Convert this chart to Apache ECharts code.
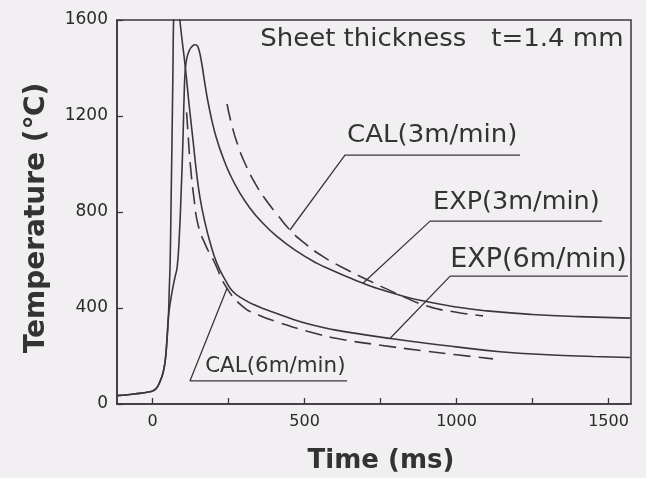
<!DOCTYPE html>
<html>
<head>
<meta charset="utf-8">
<script src="https://cdn.jsdelivr.net/npm/echarts@6/dist/echarts.min.js"></script>
<style>
  html, body { margin: 0; padding: 0; background: #f1eff1; }
  #chart { width: 646px; height: 478px; }
</style>
</head>
<body>
<div id="chart"></div>
<script>
// Axis ticks and labels
const xTickValues = [0, 250, 500, 750, 1000, 1250, 1500];
const xLabelValues = [0, 500, 1000, 1500];
const yLabelValues = [0, 400, 800, 1200, 1600];

// Measured temperature histories, [time ms, temperature °C]
const expSlow = [ // EXP(3m/min)
  [-117, 35], [-60, 42], [-10, 51], [10, 62], [25, 95], [35, 133], [42, 185], [47, 260],
  [52, 360], [58, 420], [66, 480], [74, 530], [81, 570], [88, 700], [94, 880], [100, 1100],
  [104, 1290], [108, 1400], [114, 1448], [122, 1476], [130, 1490], [138, 1497], [145, 1495],
  [152, 1478], [161, 1425], [170, 1352], [180, 1275], [195, 1182], [210, 1108], [230, 1033],
  [255, 956], [285, 884], [320, 817], [360, 757], [410, 697], [470, 640], [540, 587],
  [594, 555], [650, 525], [693, 503], [748, 478], [800, 458], [880, 432], [1000, 404],
  [1100, 388], [1250, 373], [1400, 364], [1571, 358]
];
const expFast = [ // EXP(6m/min)
  [-117, 35], [-60, 42], [-10, 51], [10, 62], [25, 95], [35, 133], [42, 185], [47, 260],
  [52, 360], [55, 480], [58, 600], [61, 850], [64, 1100], [67, 1390], [70, 1640], [76, 1740],
  [83, 1690], [89, 1610], [97, 1517], [107, 1412], [120, 1250], [133, 1100], [145, 960],
  [156, 860], [170, 770], [190, 670], [212, 585], [240, 515], [265, 468], [300, 436],
  [340, 410], [377, 392], [450, 358], [520, 331], [594, 310], [690, 290], [781, 273],
  [900, 253], [1000, 238], [1143, 218], [1300, 205], [1450, 198], [1571, 194]
];
// Calculated temperature histories
const calSlow = [ // CAL(3m/min)
  [245, 1250], [260, 1165], [280, 1080], [305, 1000], [335, 925], [370, 855], [410, 790],
  [452, 725], [500, 670], [560, 615], [620, 572], [706, 518], [800, 462], [903, 408],
  [1000, 382], [1087, 367]
];
const calFast = [ // CAL(6m/min)
  [112, 1215], [117, 1120], [124, 1000], [136, 860], [150, 745], [175, 660], [200, 600],
  [245, 482], [298, 405], [350, 370], [410, 342], [518, 300], [620, 270], [750, 245],
  [900, 220], [1000, 205], [1120, 188]
];

// Label leaders: curve point -> knee -> end of underline
const leaderCalSlow = [[452, 725], [633, 1037], [1209, 1037]];
const leaderExpSlow = [[692, 503], [913, 762], [1479, 762]];
const leaderExpFast = [[781, 273], [979, 533], [1564, 533]];
const leaderCalFast = [[245, 482], [123, 96], [640, 96]];

// Label texts and their anchors (left, vertical middle) in data units
const notes = [
  { text: 'Sheet thickness   t=1.4 mm', at: [354, 1517], size: 25, stretch: 1.04 },
  { text: 'CAL(3m/min)', at: [640, 1117], size: 25, stretch: 1.04 },
  { text: 'EXP(3m/min)', at: [923, 838], size: 25, stretch: 1.02 },
  { text: 'EXP(6m/min)', at: [979, 600], size: 26, stretch: 1.04 },
  { text: 'CAL(6m/min)', at: [173, 154], size: 21, stretch: 1.02 }
];

const ink = '#3a373a';
const chart = echarts.init(document.getElementById('chart'), null, { renderer: 'canvas' });

function curve(name, data, dashed) {
  return {
    name, type: 'line', data, showSymbol: false, symbol: 'none',
    smooth: 0.5, clip: true, silent: true,
    lineStyle: { color: ink, width: 1.6, type: dashed ? [17, 8] : 'solid' }
  };
}
function leader(data) {
  return {
    type: 'line', data, showSymbol: false, symbol: 'none', silent: true,
    lineStyle: { color: ink, width: 1.3 }
  };
}

chart.setOption({
  animation: false,
  backgroundColor: '#f1eff1',
  grid: {
    left: 117, top: 20, right: 15, bottom: 74,
    show: true, borderColor: ink, borderWidth: 1.5, backgroundColor: 'transparent'
  },
  xAxis: {
    type: 'value', min: -117, max: 1574,
    axisLine: { show: true, onZero: false, lineStyle: { color: ink, width: 1.5 } },
    axisTick: { show: true, inside: true, length: 6, customValues: xTickValues, lineStyle: { color: ink, width: 1.3 } },
    axisLabel: { customValues: xLabelValues, formatter: v => String(v), color: '#2a2a2a', fontFamily: 'DejaVu Sans', fontSize: 16, margin: 10 },
    splitLine: { show: false }
  },
  yAxis: {
    type: 'value', min: 0, max: 1600, interval: 400,
    axisLine: { show: true, onZero: false, lineStyle: { color: ink, width: 1.5 } },
    axisTick: { show: true, inside: true, length: 6, lineStyle: { color: ink, width: 1.3 } },
    axisLabel: { customValues: yLabelValues, formatter: v => String(v), color: '#2a2a2a', fontFamily: 'DejaVu Sans', fontSize: 17, margin: 9 },
    splitLine: { show: false }
  },
  series: [
    curve('EXP(3m/min)', expSlow, false),
    curve('EXP(6m/min)', expFast, false),
    curve('CAL(3m/min)', calSlow, true),
    curve('CAL(6m/min)', calFast, true),
    leader(leaderCalSlow),
    leader(leaderExpSlow),
    leader(leaderExpFast),
    leader(leaderCalFast)
  ]
});

// Annotation texts placed through the grid's coordinate system
const graphics = notes.map(n => {
  const p = chart.convertToPixel({ gridIndex: 0 }, n.at);
  return {
    type: 'text', x: p[0], y: p[1], scaleX: n.stretch, silent: true,
    style: { text: n.text, fill: '#333', font: n.size + 'px "DejaVu Sans"', textAlign: 'left', textVerticalAlign: 'middle' }
  };
});
// Axis titles
graphics.push({
  type: 'text', x: 381, y: 461, silent: true,
  style: { text: 'Time (ms)', fill: '#333', font: 'bold 26px "DejaVu Sans"', textAlign: 'center', textVerticalAlign: 'middle' }
});
graphics.push({
  type: 'text', x: 37, y: 218, rotation: Math.PI / 2, silent: true,
  style: { text: 'Temperature (℃)', fill: '#333', font: 'bold 28px "DejaVu Sans"', textAlign: 'center', textVerticalAlign: 'middle' }
});
chart.setOption({ graphic: graphics });
</script>
</body>
</html>
